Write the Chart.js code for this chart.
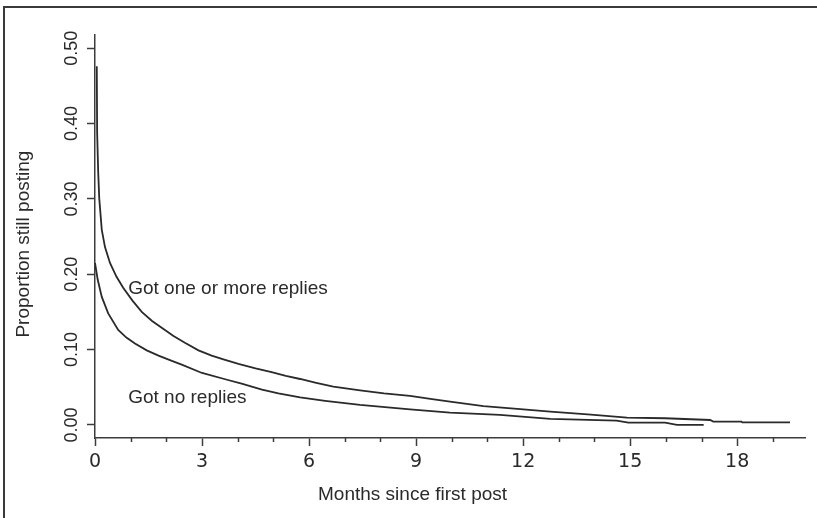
<!DOCTYPE html>
<html>
<head>
<meta charset="utf-8">
<script src="https://cdn.jsdelivr.net/npm/chart.js@4.4.1/dist/chart.umd.min.js"></script>
<style>
  html, body { margin: 0; padding: 0; background: #fff; }
  #wrap { position: relative; width: 817px; height: 518px; overflow: hidden; }
  #frame { position: absolute; left: 3px; top: 6px; right: -10px; bottom: -10px;
           border-top: 2px solid #3a3a3a; border-left: 2px solid #3a3a3a; pointer-events: none; }
</style>
</head>
<body>
<div id="wrap">
  <canvas id="myChart" width="817" height="518"></canvas>
  <div id="frame"></div>
</div>
<script>
// survival curves: months since first post vs proportion still posting
const monthsReplied = [0.05, 0.06, 0.09, 0.12, 0.19, 0.28, 0.42, 0.6, 0.79, 1.05, 1.31, 1.6, 1.96, 2.2, 2.52,
    2.9, 3.27, 3.6, 4.02, 4.5, 4.95, 5.35, 5.75, 6.2, 6.68, 7.43, 8.1, 8.83, 9.4, 9.95, 10.89, 11.92, 12.76, 13.9, 14.91, 15.98,
    17.24, 17.33, 18.12, 18.14, 19.48];
const propReplied = [0.476, 0.388, 0.335, 0.300, 0.259, 0.236, 0.215, 0.197, 0.182, 0.165, 0.150, 0.138, 0.126, 0.118, 0.109,
    0.099, 0.092, 0.087, 0.081, 0.075, 0.070, 0.065, 0.061, 0.056, 0.051, 0.046, 0.042, 0.0385, 0.0345, 0.031, 0.025, 0.021, 0.0177, 0.0137, 0.0097, 0.0089,
    0.0066, 0.0044, 0.0044, 0.0035, 0.0035];

const monthsNone = [0, 0.075, 0.19, 0.37, 0.65, 0.88, 1.12, 1.45, 1.78, 2.1, 2.43, 3.0, 3.7, 4.11, 4.68, 5.14, 5.75, 6.45, 7.43,
    8.83, 9.95, 11.35, 12.76, 14.62, 14.95, 15.98, 16.31, 17.06];
const propNone = [0.215, 0.193, 0.170, 0.148, 0.126, 0.116, 0.108, 0.099, 0.092, 0.086, 0.080, 0.069, 0.060, 0.055, 0.047, 0.042, 0.0365, 0.032, 0.0266,
    0.0208, 0.0164, 0.0133, 0.008, 0.0058, 0.0031, 0.0031, 0.0, 0.0];

const seriesLabels = ['Got one or more replies', 'Got no replies'];
// where the curve labels sit, in data units (left edge, baseline)
const labelMonths = [0.93, 0.93];
const labelProps = [0.174, 0.0296];

const xTitle = 'Months since first post';
const yTitle = 'Proportion still posting';

const ink = '#2a2a2a';
const axisInk = '#3c3c3c';

const toPoints = (xs, ys) => xs.map((x, i) => ({ x: x, y: ys[i] }));

const extras = {
    id: 'extras',
    afterDraw(chart) {
        const ctx = chart.ctx;
        const xs = chart.scales.x;
        const ys = chart.scales.y;
        const area = chart.chartArea;
        ctx.save();

        // minor ticks every month
        ctx.strokeStyle = axisInk;
        ctx.lineWidth = 1.5;
        for (let m = 1; m <= 19; m++) {
            if (m % 3 === 0) continue;
            const px = Math.round(xs.getPixelForValue(m)) + 0.5;
            ctx.beginPath();
            ctx.moveTo(px, area.bottom);
            ctx.lineTo(px, area.bottom + 4);
            ctx.stroke();
        }

        ctx.fillStyle = ink;

        // rotated y tick labels, like base R
        ctx.font = '18px "Liberation Sans", Arial, sans-serif';
        ctx.textAlign = 'center';
        ctx.textBaseline = 'alphabetic';
        ys.ticks.forEach(t => {
            const py = ys.getPixelForValue(t.value);
            ctx.save();
            ctx.translate(77, py);
            ctx.rotate(-Math.PI / 2);
            ctx.fillText(t.value.toFixed(2), 0, 0);
            ctx.restore();
        });

        // axis titles
        ctx.font = '19px "Liberation Sans", Arial, sans-serif';
        ctx.fillText(xTitle, xs.getPixelForValue(8.9), area.bottom + 62);
        ctx.save();
        ctx.translate(29, ys.getPixelForValue(0.24));
        ctx.rotate(-Math.PI / 2);
        ctx.fillText(yTitle, 0, 0);
        ctx.restore();

        // curve labels
        ctx.textAlign = 'left';
        seriesLabels.forEach((s, i) => {
            ctx.fillText(s, xs.getPixelForValue(labelMonths[i]), ys.getPixelForValue(labelProps[i]));
        });
        ctx.restore();
    }
};

new Chart(document.getElementById('myChart'), {
    type: 'line',
    data: {
        datasets: [{
            label: seriesLabels[0],
            data: toPoints(monthsReplied, propReplied),
            borderColor: ink,
            borderWidth: 1.8,
            pointRadius: 0,
            tension: 0
        }, {
            label: seriesLabels[1],
            data: toPoints(monthsNone, propNone),
            borderColor: ink,
            borderWidth: 1.8,
            pointRadius: 0,
            tension: 0
        }]
    },
    options: {
        responsive: false,
        animation: false,
        layout: { padding: { top: 35, right: 12, left: 0, bottom: 0 } },
        plugins: { legend: { display: false }, tooltip: { enabled: false } },
        scales: {
            x: {
                type: 'linear',
                min: 0,
                max: 19.9,
                afterFit: s => { s.height = 80; },
                border: { display: true, color: axisInk, width: 1.5 },
                grid: {
                    drawOnChartArea: false,
                    tickLength: 8,
                    tickWidth: 1.5,
                    tickColor: c => (c.tick && c.tick.value % 3 === 0) ? axisInk : 'rgba(0,0,0,0)'
                },
                ticks: {
                    stepSize: 1,
                    includeBounds: false,
                    autoSkip: false,
                    maxRotation: 0,
                    padding: 5,
                    color: ink,
                    font: { family: '"DejaVu Sans", Verdana, sans-serif', size: 19 },
                    callback: v => (v % 3 === 0 ? String(v) : '')
                }
            },
            y: {
                min: -0.0173,
                max: 0.5175,
                afterFit: s => { s.width = 95; },
                border: { display: true, color: axisInk, width: 1.5 },
                grid: { drawOnChartArea: false, tickLength: 8, tickWidth: 1.5, tickColor: axisInk },
                ticks: { stepSize: 0.1, includeBounds: false, display: false }
            }
        }
    },
    plugins: [extras]
});
</script>
</body>
</html>
